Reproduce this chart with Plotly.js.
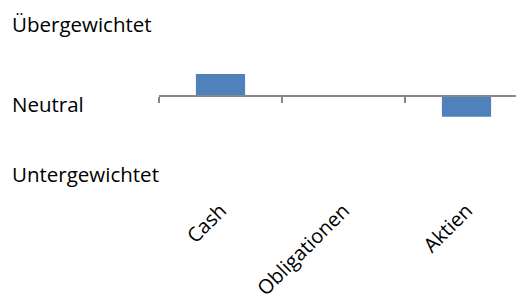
<!DOCTYPE html>
<html>
<head>
<meta charset="utf-8">
<script src="https://cdn.plot.ly/plotly-3.0.1.min.js"></script>
<style>html,body{margin:0;padding:0;overflow:hidden;background:#fff}#chart{width:540px;height:299px}</style>
</head>
<body>
<div id="chart"></div>
<script>
// Data
const categories = ['Cash', 'Obligationen', 'Aktien'];
const positioning = [1, 0, -1];
const levelLabels = ['Übergewichtet', 'Neutral', 'Untergewichtet'];

// Layout settings
const labelY = [3.36, -0.41, -3.68];
const yRange = [-4.61, 4.0];
const zeroPos = (0 - yRange[0]) / (yRange[1] - yRange[0]);
const font = {family: '"Open Sans", sans-serif', size: 20.5, color: '#000'};
const tickFont = {family: '"Open Sans", sans-serif', size: 20, color: '#000'};

const traces = [
  {
    type: 'bar', x: categories, y: positioning, xaxis: 'x', yaxis: 'y',
    width: 0.4, marker: {color: '#4F81BD', line: {width: 0}}, hoverinfo: 'skip'
  },
  {
    type: 'scatter', mode: 'markers', x: categories, y: categories.map(() => 0),
    xaxis: 'x2', yaxis: 'y', marker: {opacity: 0}, hoverinfo: 'skip', showlegend: false
  }
];

const layout = {
  width: 540, height: 299,
  margin: {l: 159, r: 12, t: 10, b: 105},
  paper_bgcolor: '#fff', plot_bgcolor: '#fff',
  showlegend: false,
  font: font,
  xaxis: {
    type: 'category', range: [-0.5, 2.5], showline: false, showgrid: false, zeroline: false,
    ticks: '', tickangle: -45, tickfont: tickFont, fixedrange: true
  },
  xaxis2: {
    type: 'category', overlaying: 'x', matches: 'x', anchor: 'free', position: zeroPos,
    range: [-0.5, 2.5], showline: true, linecolor: '#888', linewidth: 1.5,
    ticks: 'outside', tickson: 'boundaries', ticklen: 6, tickcolor: '#888', tickwidth: 1.5,
    showticklabels: false, showgrid: false, zeroline: false
  },
  yaxis: {
    range: yRange, showline: false, showgrid: false, zeroline: false,
    showticklabels: false, ticks: '', fixedrange: true
  },
  annotations: levelLabels.map((t, i) => ({
    text: t, xref: 'paper', yref: 'y', x: (10 - 159) / 369, y: labelY[i],
    xanchor: 'left', yanchor: 'middle', showarrow: false, font: font
  }))
};

Plotly.newPlot('chart', traces, layout, {displayModeBar: false, staticPlot: true});
</script>
</body>
</html>
